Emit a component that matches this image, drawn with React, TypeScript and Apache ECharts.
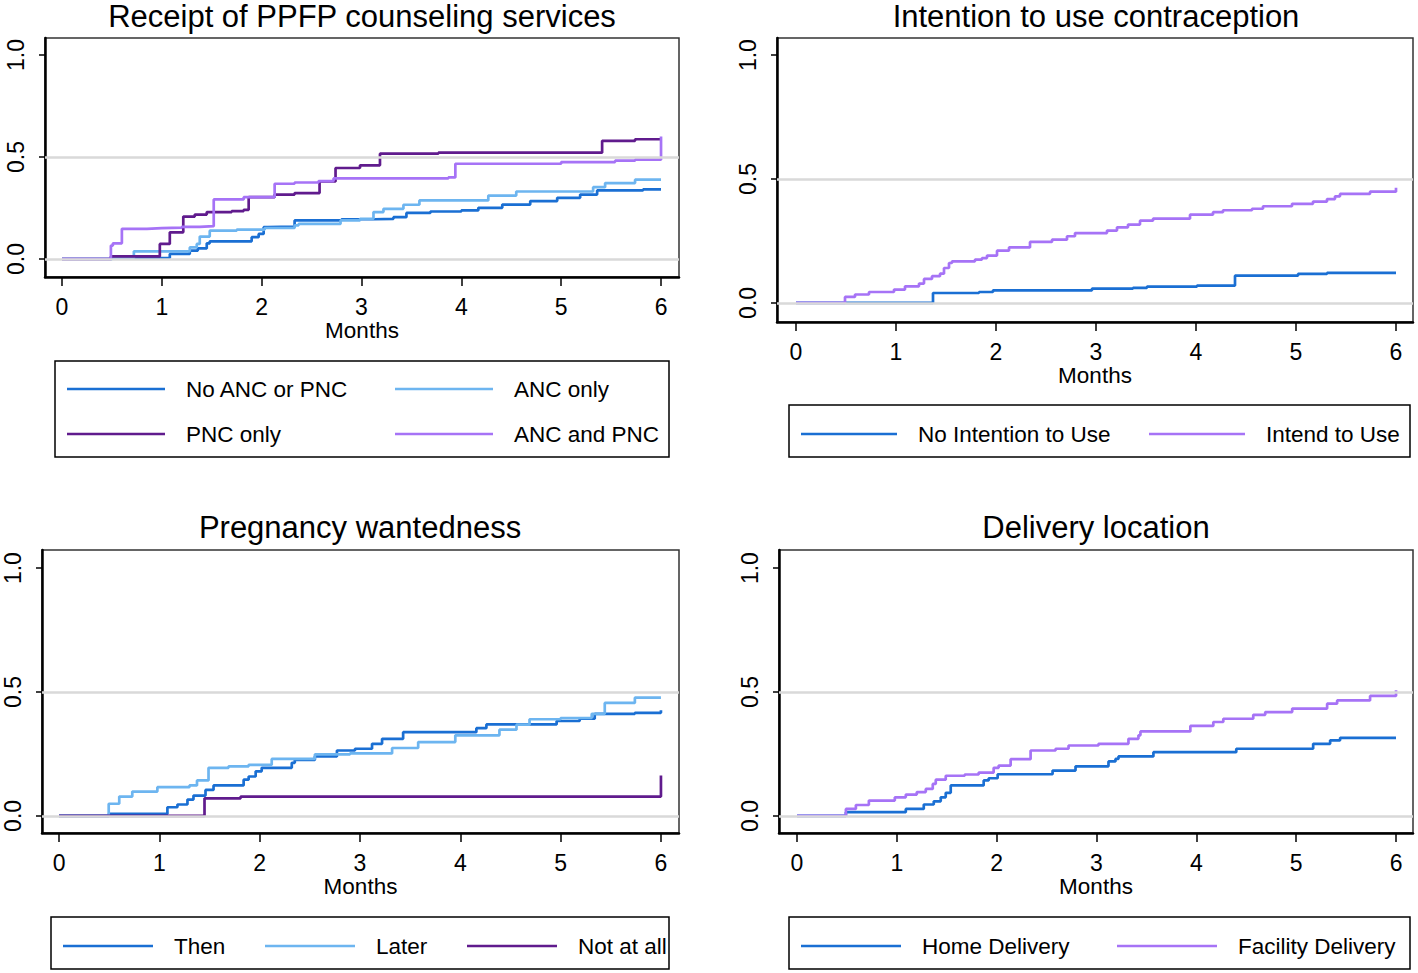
import React, { useEffect, useRef } from "react";
import * as echarts from "echarts";

// ---------- data ----------
const xTicks = [0, 1, 2, 3, 4, 5, 6];
const yTicks = [0, 0.5, 1];
const refLines = [0, 0.5];

const panelTitles = [
  "Receipt of PPFP counseling services",
  "Intention to use contraception",
  "Pregnancy wantedness",
  "Delivery location",
];

// Panel 1: Receipt of PPFP counseling services
const noAncPnc = [[0,0],[0.5,0.005],[1.08,0.025],[1.28,0.041],[1.36,0.052],[1.45,0.077],[1.48,0.087],[1.9,0.107],[1.97,0.123],[2.02,0.156],[2.06,0.159],[2.33,0.189],[2.8,0.195],[3.13,0.197],[3.32,0.205],[3.45,0.226],[3.69,0.233],[4.0,0.238],[4.17,0.251],[4.41,0.267],[4.69,0.284],[4.96,0.3],[5.19,0.316],[5.36,0.336],[5.82,0.341],[6.0,0.344]];
const ancOnly = [[0,0],[0.5,0.005],[0.72,0.038],[1.28,0.057],[1.35,0.074],[1.38,0.11],[1.48,0.139],[1.75,0.144],[2.03,0.152],[2.33,0.165],[2.37,0.172],[2.79,0.189],[2.985,0.197],[3.12,0.23],[3.22,0.246],[3.42,0.266],[3.58,0.287],[4.27,0.311],[4.55,0.331],[5.32,0.352],[5.44,0.372],[5.74,0.389],[6.0,0.389]];
const pncOnly = [[0,0],[0.49,0.013],[0.98,0.074],[1.08,0.131],[1.215,0.208],[1.33,0.218],[1.45,0.23],[1.7,0.235],[1.82,0.241],[1.87,0.303],[2.13,0.316],[2.33,0.323],[2.58,0.38],[2.74,0.446],[2.985,0.459],[3.185,0.516],[3.77,0.521],[5.41,0.579],[5.74,0.587],[6.0,0.587]];
const ancAndPnc = [[0,0],[0.49,0.066],[0.51,0.077],[0.6,0.148],[0.85,0.151],[1.0,0.154],[1.2,0.158],[1.38,0.161],[1.52,0.292],[1.82,0.303],[2.13,0.369],[2.33,0.375],[2.57,0.382],[2.72,0.395],[3.87,0.4],[3.94,0.467],[5.0,0.475],[5.54,0.482],[5.74,0.487],[6.0,0.6]];

// Panel 2: Intention to use contraception
const noIntention = [[0,0],[1.37,0.04],[1.83,0.044],[1.97,0.051],[2.96,0.058],[3.37,0.061],[3.51,0.066],[4.01,0.07],[4.39,0.11],[5.02,0.117],[5.31,0.121],[6.0,0.121]];
const intendUse = [[0,0],[0.49,0.024],[0.59,0.034],[0.73,0.044],[0.98,0.054],[1.09,0.067],[1.23,0.078],[1.28,0.097],[1.36,0.108],[1.44,0.118],[1.48,0.141],[1.53,0.161],[1.56,0.168],[1.79,0.175],[1.86,0.181],[1.91,0.191],[2.01,0.211],[2.13,0.224],[2.34,0.246],[2.56,0.255],[2.71,0.269],[2.79,0.282],[3.11,0.292],[3.21,0.305],[3.32,0.316],[3.44,0.332],[3.57,0.34],[3.94,0.356],[4.17,0.366],[4.27,0.374],[4.56,0.38],[4.67,0.39],[4.96,0.4],[5.17,0.409],[5.31,0.419],[5.39,0.43],[5.44,0.44],[5.74,0.449],[6.0,0.465]];

// Panel 3: Pregnancy wantedness
const wantThen = [[0,0],[0.495,0.008],[1.08,0.035],[1.18,0.046],[1.28,0.066],[1.34,0.082],[1.46,0.105],[1.54,0.123],[1.84,0.146],[1.89,0.159],[1.96,0.18],[2.02,0.194],[2.32,0.214],[2.35,0.226],[2.55,0.24],[2.77,0.264],[2.95,0.271],[3.12,0.291],[3.22,0.311],[3.43,0.338],[4.16,0.354],[4.26,0.369],[4.96,0.383],[5.19,0.392],[5.34,0.412],[5.74,0.416],[6.0,0.426]];
const wantLater = [[0,0],[0.495,0.049],[0.6,0.078],[0.73,0.098],[0.98,0.116],[1.3,0.123],[1.375,0.143],[1.49,0.194],[1.69,0.2],[1.89,0.206],[2.12,0.23],[2.55,0.248],[2.9,0.252],[3.32,0.274],[3.58,0.298],[3.95,0.325],[4.39,0.348],[4.56,0.368],[4.69,0.39],[5.0,0.395],[5.31,0.412],[5.44,0.456],[5.74,0.477],[6.0,0.477]];
const wantNotAtAll = [[0,0],[1.45,0.071],[1.81,0.078],[6.0,0.163]];

// Panel 4: Delivery location
const homeDelivery = [[0,0],[0.49,0.015],[1.09,0.028],[1.27,0.046],[1.37,0.059],[1.44,0.075],[1.49,0.093],[1.54,0.123],[1.87,0.143],[1.92,0.152],[2.01,0.168],[2.56,0.183],[2.79,0.2],[3.12,0.22],[3.19,0.23],[3.22,0.24],[3.57,0.257],[4.4,0.271],[5.17,0.291],[5.34,0.305],[5.44,0.315],[6.0,0.315]];
const facilityDelivery = [[0,0],[0.49,0.028],[0.59,0.044],[0.72,0.062],[0.98,0.075],[1.09,0.086],[1.2,0.096],[1.29,0.109],[1.36,0.129],[1.39,0.146],[1.49,0.162],[1.68,0.167],[1.82,0.175],[1.97,0.194],[2.02,0.203],[2.14,0.229],[2.34,0.264],[2.59,0.271],[2.72,0.284],[3.02,0.291],[3.32,0.311],[3.42,0.325],[3.44,0.341],[3.94,0.363],[4.17,0.379],[4.27,0.392],[4.57,0.408],[4.69,0.419],[4.96,0.433],[5.31,0.453],[5.41,0.466],[5.74,0.484],[6.0,0.507]];

// ---------- styles ----------
const FONT = "'Liberation Sans', Arial, Helvetica, sans-serif";
const C_BLUE = "#1a6fd3";
const C_LBLUE = "#6db5f0";
const C_DPURPLE = "#601b8d";
const C_LPURPLE = "#a673f6";

const grids = [
  { left: 45, top: 38, width: 634, height: 239, xmin: -0.17, xmax: 6.18, ymin: -0.088, ymax: 1.083, titleX: 362, titleY: 1 },
  { left: 777, top: 38, width: 636, height: 284, xmin: -0.19, xmax: 6.17, ymin: -0.077, ymax: 1.069, titleX: 1096, titleY: 1 },
  { left: 42, top: 550, width: 637, height: 283, xmin: -0.17, xmax: 6.18, ymin: -0.069, ymax: 1.073, titleX: 360, titleY: 512 },
  { left: 779, top: 550, width: 634, height: 283, xmin: -0.18, xmax: 6.17, ymin: -0.069, ymax: 1.073, titleX: 1096, titleY: 512 },
];

const seriesDefs = [
  { name: "No ANC or PNC", data: noAncPnc, color: C_BLUE, panel: 0 },
  { name: "ANC only", data: ancOnly, color: C_LBLUE, panel: 0 },
  { name: "PNC only", data: pncOnly, color: C_DPURPLE, panel: 0 },
  { name: "ANC and PNC", data: ancAndPnc, color: C_LPURPLE, panel: 0 },
  { name: "No Intention to Use", data: noIntention, color: C_BLUE, panel: 1 },
  { name: "Intend to Use", data: intendUse, color: C_LPURPLE, panel: 1 },
  { name: "Then", data: wantThen, color: C_BLUE, panel: 2 },
  { name: "Later", data: wantLater, color: C_LBLUE, panel: 2 },
  { name: "Not at all", data: wantNotAtAll, color: C_DPURPLE, panel: 2 },
  { name: "Home Delivery", data: homeDelivery, color: C_BLUE, panel: 3 },
  { name: "Facility Delivery", data: facilityDelivery, color: C_LPURPLE, panel: 3 },
];

// legend item placement: icon left x, row centre y, icon width
const legendItems = [
  { name: "No ANC or PNC", x: 67, y: 389, w: 98 },
  { name: "ANC only", x: 395, y: 389, w: 98 },
  { name: "PNC only", x: 67, y: 434, w: 98 },
  { name: "ANC and PNC", x: 395, y: 434, w: 98 },
  { name: "No Intention to Use", x: 801, y: 434, w: 96 },
  { name: "Intend to Use", x: 1149, y: 434, w: 96 },
  { name: "Then", x: 63, y: 946, w: 90 },
  { name: "Later", x: 265, y: 946, w: 90 },
  { name: "Not at all", x: 467, y: 946, w: 90 },
  { name: "Home Delivery", x: 801, y: 946, w: 100 },
  { name: "Facility Delivery", x: 1117, y: 946, w: 100 },
];

const legendBoxes = [
  { x: 55, y: 361, w: 614, h: 96 },
  { x: 789, y: 405, w: 621, h: 52 },
  { x: 51, y: 917, w: 618, h: 52 },
  { x: 789, y: 917, w: 621, h: 52 },
];

export default function App() {
  const ref = useRef<HTMLDivElement>(null);
  useEffect(() => {
    if (!ref.current) return;
    const chart = echarts.init(ref.current, null, { renderer: "svg" });

    const option: any = {
      animation: false,
      backgroundColor: "#ffffff",
      textStyle: { fontFamily: FONT },
      title: grids.map((g, i) => ({
        text: panelTitles[i],
        left: g.titleX,
        top: g.titleY,
        textAlign: "center",
        padding: 0,
        textStyle: { fontFamily: FONT, fontSize: 31, fontWeight: "normal", color: "#000", lineHeight: 31 },
      })),
      grid: grids.map((g) => ({
        left: g.left,
        top: g.top,
        width: g.width,
        height: g.height,
        show: true,
        borderColor: "#333",
        borderWidth: 1.5,
        backgroundColor: "#fff",
      })),
      xAxis: grids.map((g, i) => ({
        type: "value",
        gridIndex: i,
        min: g.xmin,
        max: g.xmax,
        name: "Months",
        nameLocation: "middle",
        nameGap: 42,
        nameTextStyle: { fontFamily: FONT, fontSize: 22.5, color: "#000" },
        axisLine: { show: true, onZero: false, lineStyle: { color: "#000", width: 2.5 } },
        axisTick: { show: true, length: 9, customValues: xTicks, lineStyle: { color: "#000", width: 1.5 } },
        axisLabel: { customValues: xTicks, fontFamily: FONT, fontSize: 23, color: "#000", margin: 18, formatter: (v: number) => String(v) },
        splitLine: { show: false },
      })),
      yAxis: grids.map((g, i) => ({
        type: "value",
        gridIndex: i,
        min: g.ymin,
        max: g.ymax,
        axisLine: { show: true, onZero: false, lineStyle: { color: "#000", width: 2.5 } },
        axisTick: { show: true, length: 6, customValues: yTicks, lineStyle: { color: "#000", width: 1.5 } },
        axisLabel: { customValues: yTicks, rotate: 90, fontFamily: FONT, fontSize: 23, color: "#000", margin: 18, formatter: (v: number) => v.toFixed(1) },
        splitLine: { show: false },
      })),
      legend: legendItems.map((it) => ({
        data: [it.name],
        left: it.x,
        top: it.y - 12,
        padding: 0,
        icon: "rect",
        itemWidth: it.w,
        itemHeight: 2.5,
        selectedMode: false,
        textStyle: { fontFamily: FONT, fontSize: 22.5, color: "#000", lineHeight: 24, padding: [0, 0, 0, 16] },
      })),
      series: [
        ...grids.map((g, i) => ({
          type: "line",
          name: "ref" + i,
          xAxisIndex: i,
          yAxisIndex: i,
          data: [[0, 0]],
          showSymbol: false,
          symbol: "none",
          silent: true,
          z: 1,
          lineStyle: { width: 0 },
          markLine: {
            silent: true,
            symbol: "none",
            label: { show: false },
            lineStyle: { color: "#d9d9d9", width: 2.5, type: "solid" },
            data: refLines.map((v) => ({ yAxis: v })),
          },
        })),
        ...seriesDefs.map((s) => ({
          type: "line",
          name: s.name,
          xAxisIndex: s.panel,
          yAxisIndex: s.panel,
          data: s.data,
          step: "end",
          symbol: "none",
          showSymbol: false,
          z: 3,
          color: s.color,
          lineStyle: { color: s.color, width: 2.7 },
        })),
      ],
      graphic: legendBoxes.map((b) => ({
        type: "rect",
        shape: { x: b.x, y: b.y, width: b.w, height: b.h },
        style: { fill: "none", stroke: "#000", lineWidth: 1.5 },
        silent: true,
      })),
    };

    chart.setOption(option);
    return () => chart.dispose();
  }, []);

  return (
    <div
      ref={ref}
      style={{ position: "absolute", left: 0, top: 0, width: 1418, height: 973, background: "#fff" }}
    />
  );
}
